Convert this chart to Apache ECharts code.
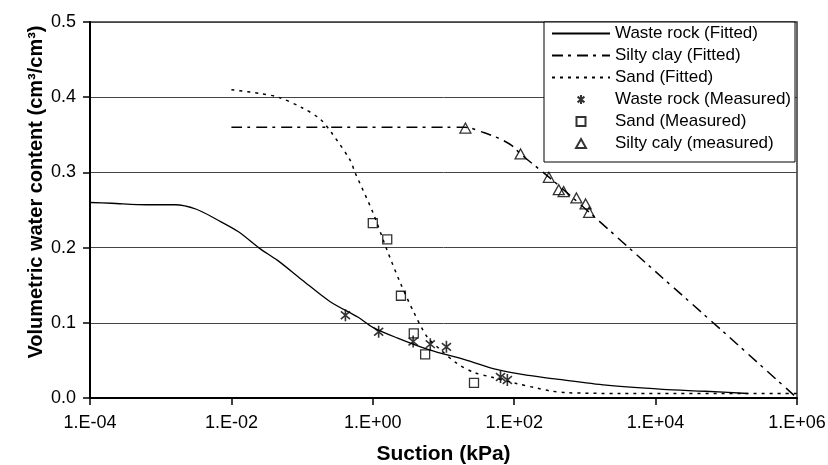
<!DOCTYPE html>
<html><head><meta charset="utf-8">
<script src="https://cdn.jsdelivr.net/npm/echarts@6/dist/echarts.min.js"></script>
<style>html,body{margin:0;padding:0;background:#fff}#c{width:828px;height:465px}</style>
</head><body><div id="c"></div>
<script>
// Tick labels
const xTickExponents = [-4, -2, 0, 2, 4, 6];
const xTickLabels = ['1.E-04', '1.E-02', '1.E+00', '1.E+02', '1.E+04', '1.E+06'];

// Series names
const seriesNames = ['Waste rock (Fitted)', 'Silty clay (Fitted)', 'Sand (Fitted)',
  'Waste rock (Measured)', 'Sand (Measured)', 'Silty caly (measured)'];

// Waste rock (Fitted)
const wasteFitSuction = [0.0001, 0.0002, 0.00063, 0.0016, 0.0032, 0.0063, 0.0126, 0.025, 0.045, 0.1, 0.25, 0.63, 1, 2.2, 6.3, 20, 56, 160, 400, 2000, 12600, 50000, 200000];
const wasteFitTheta   = [0.260, 0.259, 0.257, 0.257, 0.251, 0.237, 0.221, 0.199, 0.183, 0.157, 0.128, 0.107, 0.094, 0.080, 0.064, 0.051, 0.038, 0.030, 0.025, 0.017, 0.0115, 0.009, 0.006];

// Silty clay (Fitted)
const clayFitSuction = [0.01, 20, 37, 65, 93, 123, 316, 1150, 10000, 100000, 1000000];
const clayFitTheta   = [0.360, 0.360, 0.353, 0.344, 0.3355, 0.3245, 0.293, 0.247, 0.168, 0.0845, 0.0];

// Sand (Fitted)
const sandFitSuction = [0.01, 0.025, 0.046, 0.1, 0.18, 0.26, 0.48, 0.56, 1, 1.6, 2.45, 3.8, 5.9, 9.1, 15.5, 27, 47, 110, 214, 330, 560, 3160, 1000000];
const sandFitTheta   = [0.410, 0.405, 0.400, 0.386, 0.371, 0.353, 0.316, 0.300, 0.247, 0.196, 0.153, 0.114, 0.081, 0.064, 0.046, 0.034, 0.028, 0.019, 0.013, 0.0093, 0.007, 0.006, 0.006];

// Measured
const wasteMeasSuction = [0.41, 1.21, 3.72, 6.5, 11, 64, 80];
const wasteMeasTheta   = [0.110, 0.088, 0.075, 0.0716, 0.068, 0.028, 0.024];
const sandMeasSuction  = [1.0, 1.6, 2.5, 3.8, 5.5, 27];
const sandMeasTheta    = [0.2325, 0.211, 0.136, 0.086, 0.058, 0.020];
const clayMeasSuction  = [20.4, 123, 309, 427, 500, 759, 1023, 1148];
const clayMeasTheta    = [0.359, 0.3245, 0.2935, 0.277, 0.2745, 0.266, 0.258, 0.247];

const pair = (xs, ys) => xs.map((x, i) => [x, ys[i]]);
const FONT = '"Liberation Sans", Arial, Helvetica, sans-serif';
const asterisk = 'path://M5,0 L5,10 M1.2,1.8 L8.8,8.2 M1.2,8.2 L8.8,1.8';
const squareIcon = 'path://M0,0 L10,0 L10,10 L0,10 Z';
const triangleIcon = 'path://M5,0 L10,9 L0,9 Z';
const noSymbol = {color: 'rgba(0,0,0,0)', borderWidth: 0, opacity: 0};

const chart = echarts.init(document.getElementById('c'), null, {renderer: 'canvas'});
chart.setOption({
  animation: false,
  backgroundColor: '#fff',
  textStyle: {fontFamily: FONT, color: '#000'},
  grid: {left: 90, right: 31, top: 22, bottom: 67, containLabel: false, outerBoundsMode: 'none',
    show: true, borderColor: '#333', borderWidth: 1.5, backgroundColor: 'transparent'},
  legend: {
    orient: 'vertical', left: 544, top: 22,
    backgroundColor: '#fff', borderColor: '#000', borderWidth: 1,
    padding: [3, 4, 10, 7], itemGap: 5, itemWidth: 58, itemHeight: 9,
    symbolKeepAspect: true,
    textStyle: {fontFamily: FONT, fontSize: 17, color: '#000'},
    data: [
      {name: seriesNames[0], itemStyle: noSymbol},
      {name: seriesNames[1], itemStyle: noSymbol},
      {name: seriesNames[2], itemStyle: noSymbol},
      {name: seriesNames[3]},
      {name: seriesNames[4], icon: squareIcon},
      {name: seriesNames[5], icon: triangleIcon}
    ]
  },
  xAxis: {
    type: 'log', logBase: 10, min: 1e-4, max: 1e6, interval: 2,
    name: 'Suction (kPa)', nameLocation: 'middle', nameGap: 46,
    nameTextStyle: {fontFamily: FONT, fontSize: 21, fontWeight: 'bold', color: '#000'},
    axisLine: {lineStyle: {color: '#000', width: 2}},
    axisTick: {show: true, inside: false, length: 7, lineStyle: {color: '#000', width: 1.5}},
    axisLabel: {fontFamily: FONT, fontSize: 18, color: '#000', margin: 16,
      formatter: v => { const e = Math.round(Math.log10(v)); const i = xTickExponents.indexOf(e); return i >= 0 ? xTickLabels[i] : ''; }},
    splitLine: {show: false}, minorTick: {show: false}
  },
  yAxis: {
    type: 'value', min: 0, max: 0.5, interval: 0.1,
    name: 'Volumetric water content (cm³/cm³)', nameLocation: 'middle', nameGap: 44, nameRotate: 90,
    nameMoveOverlap: false,
    nameTextStyle: {fontFamily: FONT, fontSize: 20, fontWeight: 'bold', color: '#000', padding: [0, 0, 0, 36]},
    axisLine: {show: true, lineStyle: {color: '#000', width: 2}},
    axisTick: {show: true, inside: false, length: 7, lineStyle: {color: '#000', width: 1.5}},
    axisLabel: {fontFamily: FONT, fontSize: 18, color: '#000', margin: 14, formatter: v => v.toFixed(1)},
    splitLine: {show: true, lineStyle: {color: '#444', width: 1}}
  },
  series: [
    {name: seriesNames[0], type: 'line', data: pair(wasteFitSuction, wasteFitTheta), symbol: 'none', smooth: 0.3,
      lineStyle: {color: '#000', width: 1.3, type: 'solid'}, itemStyle: {color: '#000'}, z: 2},
    {name: seriesNames[1], type: 'line', data: pair(clayFitSuction, clayFitTheta), symbol: 'none', smooth: 0.3,
      lineStyle: {color: '#000', width: 1.5, type: [11, 5, 3, 6]}, itemStyle: {color: '#000'}, z: 2},
    {name: seriesNames[2], type: 'line', data: pair(sandFitSuction, sandFitTheta), symbol: 'none', smooth: 0.3,
      lineStyle: {color: '#000', width: 1.5, type: [3, 5]}, itemStyle: {color: '#000'}, z: 2},
    {name: seriesNames[3], type: 'scatter', data: pair(wasteMeasSuction, wasteMeasTheta), symbol: asterisk, symbolSize: 12, symbolKeepAspect: true,
      itemStyle: {color: 'rgba(0,0,0,0)', borderColor: '#000', borderWidth: 1.6}, z: 3},
    {name: seriesNames[4], type: 'scatter', data: pair(sandMeasSuction, sandMeasTheta), symbol: 'rect', symbolSize: 9, symbolKeepAspect: true,
      itemStyle: {color: 'rgba(0,0,0,0)', borderColor: '#000', borderWidth: 1.3}, z: 3},
    {name: seriesNames[5], type: 'scatter', data: pair(clayMeasSuction, clayMeasTheta), symbol: 'triangle', symbolSize: [11, 10], symbolKeepAspect: true,
      itemStyle: {color: 'rgba(0,0,0,0)', borderColor: '#000', borderWidth: 1.3}, z: 3}
  ]
});
</script>
</body></html>
